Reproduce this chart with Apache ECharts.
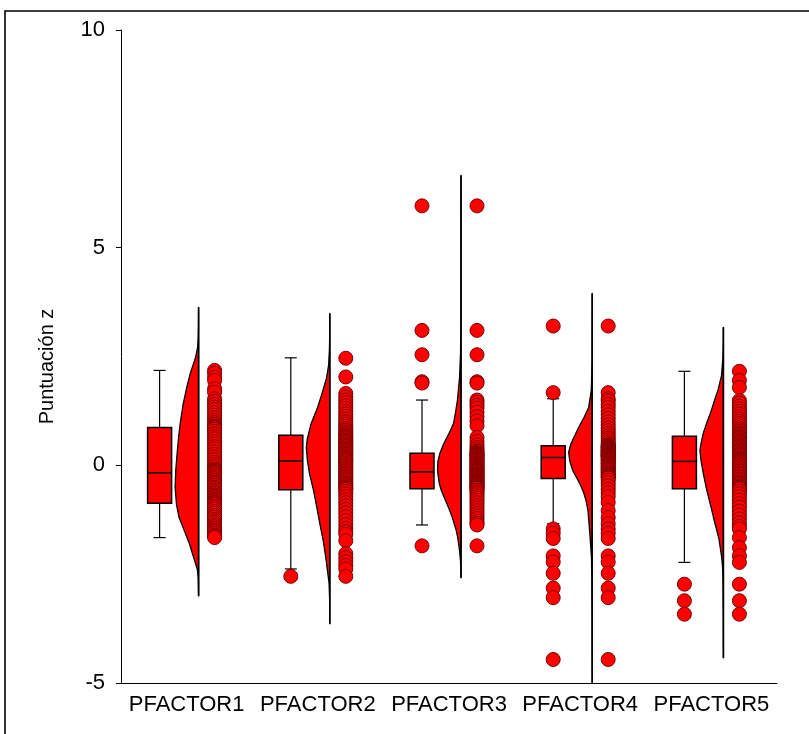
<!DOCTYPE html>
<html>
<head>
<meta charset="utf-8">
<script src="https://cdn.jsdelivr.net/npm/echarts@6/dist/echarts.min.js"></script>
<style>
  html, body { margin: 0; padding: 0; background: #fff; }
  #chart { width: 809px; height: 734px; }
</style>
</head>
<body>
<div id="chart"></div>
<script>
// Factor names on the category axis
const factors = ['PFACTOR1', 'PFACTOR2', 'PFACTOR3', 'PFACTOR4', 'PFACTOR5'];

// Value axis range and step for the z scores
const yMin = -5;
const yMax = 10;
const yStep = 5;

// Individual z scores per factor
const scores1 = [2.18, 2.12, 2.02, 1.95, 1.76, 1.68, 1.53, 1.47, 1.40, 1.34, 1.28, 1.21, 1.15, 1.09, 1.03, 0.98, 0.94, 0.90, 0.88, 0.86,
  0.83, 0.78, 0.72, 0.66, 0.61, 0.55, 0.49, 0.43, 0.38, 0.31, 0.25, 0.19, 0.13, 0.07, 0.02, -0.03, -0.08, -0.11, -0.14, -0.16,
  -0.19, -0.23, -0.27, -0.31, -0.35, -0.39, -0.42, -0.46, -0.50, -0.53, -0.57, -0.61, -0.64, -0.68, -0.71, -0.74, -0.78, -0.81, -0.84, -0.86,
  -0.89, -0.93, -0.97, -1.01, -1.06, -1.10, -1.15, -1.19, -1.24, -1.28, -1.32, -1.37, -1.41, -1.45, -1.49, -1.52, -1.56, -1.60, -1.63, -1.66];
const scores2 = [2.46, 2.03, 1.65, 1.57, 1.50, 1.44, 1.37, 1.31, 1.24, 1.18, 1.12, 1.06, 1.00, 0.95, 0.90, 0.85, 0.81, 0.77, 0.73, 0.70,
  0.67, 0.64, 0.61, 0.58, 0.55, 0.52, 0.49, 0.46, 0.43, 0.40, 0.37, 0.34, 0.31, 0.28, 0.25, 0.22, 0.19, 0.16, 0.13, 0.11,
  0.08, 0.04, 0.01, -0.03, -0.06, -0.10, -0.13, -0.17, -0.20, -0.24, -0.27, -0.31, -0.34, -0.38, -0.41, -0.44, -0.47, -0.50, -0.53, -0.55,
  -0.60, -0.66, -0.72, -0.79, -0.86, -0.93, -1.01, -1.09, -1.18, -1.27, -1.36, -1.45, -1.52, -1.58, -1.73, -2.03, -2.12, -2.21, -2.30, -2.38, -2.55];
const scores3 = [5.96, 3.10, 2.54, 1.92, 1.89, 1.50, 1.45, 1.38, 1.31, 1.22, 1.12, 1.02, 0.91, 0.64, 0.55, 0.47, 0.41, 0.36, 0.32, 0.29,
  0.27, 0.25, 0.23, 0.21, 0.19, 0.16, 0.14, 0.12, 0.10, 0.07, 0.05, 0.03, 0.00, -0.02, -0.04, -0.07, -0.09, -0.11, -0.13, -0.14,
  -0.17, -0.19, -0.21, -0.23, -0.25, -0.27, -0.29, -0.31, -0.33, -0.35, -0.37, -0.39, -0.41, -0.43, -0.45, -0.47, -0.49, -0.51, -0.52, -0.53,
  -0.57, -0.61, -0.65, -0.70, -0.75, -0.80, -0.86, -0.92, -0.98, -1.04, -1.10, -1.16, -1.22, -1.28, -1.33, -1.37, -1.85];
const scores4 = [3.20, 1.67, 1.53, 1.48, 1.40, 1.33, 1.24, 1.16, 1.08, 1.00, 0.93, 0.86, 0.80, 0.74, 0.68, 0.63, 0.58, 0.53, 0.49, 0.46,
  0.44, 0.43, 0.41, 0.40, 0.38, 0.37, 0.35, 0.34, 0.32, 0.31, 0.29, 0.28, 0.27, 0.25, 0.24, 0.23, 0.22, 0.21, 0.20, 0.19,
  0.16, 0.14, 0.12, 0.10, 0.07, 0.05, 0.03, 0.00, -0.02, -0.05, -0.07, -0.10, -0.12, -0.15, -0.17, -0.20, -0.22, -0.25, -0.27, -0.29,
  -0.34, -0.40, -0.47, -0.55, -0.63, -0.72, -0.85, -1.04, -1.20, -1.34, -1.46, -1.56, -1.68, -2.08, -2.22, -2.48, -2.82, -3.04, -4.46];
const scores5 = [2.16, 1.95, 1.79, 1.49, 1.43, 1.36, 1.30, 1.24, 1.18, 1.12, 1.06, 1.01, 0.96, 0.91, 0.86, 0.82, 0.78, 0.74, 0.71, 0.68,
  0.65, 0.62, 0.59, 0.56, 0.53, 0.50, 0.47, 0.44, 0.41, 0.38, 0.35, 0.32, 0.29, 0.26, 0.23, 0.20, 0.17, 0.14, 0.12, 0.10,
  0.07, 0.04, 0.01, -0.03, -0.06, -0.10, -0.13, -0.17, -0.20, -0.24, -0.27, -0.31, -0.34, -0.38, -0.41, -0.44, -0.47, -0.50, -0.52, -0.54,
  -0.59, -0.65, -0.72, -0.80, -0.88, -0.96, -1.05, -1.14, -1.23, -1.32, -1.40, -1.46, -1.66, -1.89, -2.08, -2.23, -2.73, -3.11, -3.42];

// Box plot statistics: [lower whisker, Q1, median, Q3, upper whisker]
const box1 = [-1.66, -0.87, -0.17, 0.87, 2.18];
const box2 = [-2.38, -0.56, 0.10, 0.69, 2.47];
const box3 = [-1.37, -0.54, -0.15, 0.28, 1.50];
const box4 = [-1.34, -0.30, 0.18, 0.45, 1.53];
const box5 = [-2.23, -0.54, 0.09, 0.67, 2.16];

// Density profiles (z score, relative density) for the half violins
const dens1 = [[3.63, 0], [3.2, 0.005], [2.9, 0.02], [2.71, 0.04], [2.48, 0.13], [2.1, 0.36], [1.8, 0.5], [1.4, 0.66], [0.97, 0.78],
  [0.6, 0.86], [0.3, 0.91], [-0.1, 0.97], [-0.5, 1.0], [-0.9, 0.94], [-1.2, 0.83], [-1.5, 0.61], [-1.8, 0.39], [-2.1, 0.22],
  [-2.4, 0.05], [-2.6, 0.015], [-3.0, 0]];
const dens2 = [[3.49, 0], [3.0, 0.004], [2.68, 0.015], [2.3, 0.05], [2.0, 0.14], [1.6, 0.36], [1.33, 0.52], [0.95, 0.8], [0.6, 0.96],
  [0.41, 1.0], [0.1, 0.95], [-0.2, 0.86], [-0.58, 0.69], [-0.97, 0.55], [-1.35, 0.42], [-1.73, 0.28], [-2.12, 0.17], [-2.5, 0.08],
  [-2.72, 0.03], [-3.1, 0.006], [-3.64, 0]];
const dens3 = [[6.66, 0], [6.2, 0.003], [5.9, 0.006], [5.5, 0.003], [4.5, 0.002], [3.1, 0.005], [2.57, 0.02], [2.03, 0.06], [1.5, 0.15],
  [1.26, 0.22], [0.96, 0.32], [0.8, 0.45], [0.64, 0.6], [0.49, 0.74], [0.27, 0.9], [0.1, 0.98], [-0.12, 1.0], [-0.43, 0.92], [-0.6, 0.82],
  [-0.88, 0.6], [-1.04, 0.48], [-1.2, 0.37], [-1.5, 0.2], [-1.66, 0.14], [-1.96, 0.06], [-2.2, 0.02], [-2.58, 0]];
const dens4 = [[3.95, 0], [3.2, 0.004], [2.5, 0.005], [2.06, 0.02], [1.72, 0.04], [1.33, 0.15], [1.1, 0.35], [0.87, 0.58], [0.64, 0.78],
  [0.49, 0.91], [0.3, 1.0], [0.11, 0.96], [-0.12, 0.83], [-0.43, 0.52], [-0.6, 0.38], [-0.81, 0.26], [-1.04, 0.18], [-1.43, 0.12],
  [-1.8, 0.07], [-2.12, 0.03], [-2.6, 0.015], [-3.0, 0.012], [-3.6, 0.005], [-4.46, 0.004], [-5.0, 0]];
const dens5 = [[3.17, 0], [2.8, 0.006], [2.48, 0.02], [2.06, 0.08], [1.75, 0.22], [1.49, 0.38], [1.2, 0.55], [0.99, 0.7], [0.75, 0.85],
  [0.53, 0.94], [0.35, 1.0], [0.1, 0.95], [-0.2, 0.85], [-0.54, 0.72], [-0.93, 0.54], [-1.31, 0.37], [-1.69, 0.19], [-2.08, 0.08],
  [-2.3, 0.04], [-2.6, 0.02], [-3.1, 0.012], [-3.5, 0.006], [-4.42, 0]];

const scoreLists = [scores1, scores2, scores3, scores4, scores5];
const boxLists = [box1, box2, box3, box4, box5];
const densLists = [dens1, dens2, dens3, dens4, dens5];

// Horizontal placement of each layer relative to the category centre (px)
const BOX_OFFSET = -27;
const BOX_WIDTH = 24;
const CAP_WIDTH = 12;
const VIOLIN_OFFSET = 12;
const VIOLIN_WIDTH = 23.5;
const DOT_OFFSET = 28;
const DOT_SIZE = 14;

const RED = '#ff0000';
const DOT_EDGE = '#7a0000';
const FONT = "'Liberation Sans', Arial, sans-serif";

function renderBox(params, api) {
  const i = api.value(0);
  const lo = api.coord([i, api.value(1)]);
  const q1 = api.coord([i, api.value(2)]);
  const md = api.coord([i, api.value(3)]);
  const q3 = api.coord([i, api.value(4)]);
  const hi = api.coord([i, api.value(5)]);
  const cx = lo[0] + BOX_OFFSET;
  const line = { stroke: '#000', lineWidth: 1.2 };
  return {
    type: 'group',
    children: [
      { type: 'line', shape: { x1: cx, y1: hi[1], x2: cx, y2: q3[1] }, style: line },
      { type: 'line', shape: { x1: cx, y1: q1[1], x2: cx, y2: lo[1] }, style: line },
      { type: 'line', shape: { x1: cx - CAP_WIDTH / 2, y1: hi[1], x2: cx + CAP_WIDTH / 2, y2: hi[1] }, style: line },
      { type: 'line', shape: { x1: cx - CAP_WIDTH / 2, y1: lo[1], x2: cx + CAP_WIDTH / 2, y2: lo[1] }, style: line },
      { type: 'rect', shape: { x: cx - BOX_WIDTH / 2, y: q3[1], width: BOX_WIDTH, height: q1[1] - q3[1] },
        style: { fill: RED, stroke: '#000', lineWidth: 1.5 } },
      { type: 'line', shape: { x1: cx - BOX_WIDTH / 2, y1: md[1], x2: cx + BOX_WIDTH / 2, y2: md[1] },
        style: { stroke: '#000', lineWidth: 1.5 } }
    ]
  };
}

function renderViolin(params, api) {
  const i = api.value(0);
  const prof = densLists[i];
  const base = api.coord([i, prof[0][0]])[0] + VIOLIN_OFFSET;
  const curve = prof.map(p => {
    const c = api.coord([i, p[0]]);
    return [base - p[1] * VIOLIN_WIDTH, c[1]];
  });
  const top = api.coord([i, prof[0][0]])[1];
  const bottom = api.coord([i, prof[prof.length - 1][0]])[1];
  return {
    type: 'group',
    children: [
      { type: 'polygon', shape: { points: curve },
        style: { fill: RED, stroke: '#000', lineWidth: 1.3, lineJoin: 'round' } },
      { type: 'line', shape: { x1: base, y1: top, x2: base, y2: bottom },
        style: { stroke: '#000', lineWidth: 1.6 } }
    ]
  };
}

const dotData = [];
const outlierData = [];
scoreLists.forEach((arr, i) => {
  const b = boxLists[i];
  arr.forEach(v => {
    dotData.push([i, v]);
    if (v < b[0] || v > b[4]) outlierData.push([i, v]);
  });
});

const chart = echarts.init(document.getElementById('chart'), null, { renderer: 'canvas' });
chart.setOption({
  animation: false,
  backgroundColor: '#fff',
  grid: { left: 121, right: 32, top: 30, bottom: 51, containLabel: false },
  graphic: [{
    type: 'rect', silent: true, z: 0,
    shape: { x: 5, y: 11, width: 1200, height: 1200 },
    style: { fill: 'transparent', stroke: '#000', lineWidth: 1.6 }
  }],
  xAxis: {
    type: 'category',
    data: factors,
    boundaryGap: true,
    axisLine: { onZero: false, lineStyle: { color: '#000', width: 1 } },
    axisTick: { alignWithLabel: true, length: 5, lineStyle: { color: '#000' } },
    axisLabel: { color: '#000', fontSize: 22, fontFamily: FONT, margin: 11, interval: 0 },
    splitLine: { show: false }
  },
  yAxis: {
    type: 'value',
    min: yMin, max: yMax, interval: yStep,
    name: 'Puntuación z',
    nameLocation: 'middle',
    nameGap: 64,
    nameTextStyle: { color: '#000', fontSize: 20, fontFamily: FONT, padding: [0, 20, 0, 0] },
    axisLine: { show: true, lineStyle: { color: '#000', width: 1 } },
    axisTick: { show: true, length: 5, lineStyle: { color: '#000' } },
    axisLabel: { color: '#000', fontSize: 22, fontFamily: FONT, margin: 16 },
    splitLine: { show: false }
  },
  series: [
    {
      type: 'custom', name: 'violin',
      renderItem: renderViolin,
      encode: { x: 0, y: [1, 2] },
      data: densLists.map((d, i) => [i, d[0][0], d[d.length - 1][0]]),
      z: 2
    },
    {
      type: 'custom', name: 'box',
      renderItem: renderBox,
      encode: { x: 0, y: [1, 2, 3, 4, 5] },
      data: boxLists.map((b, i) => [i].concat(b)),
      z: 3
    },
    {
      type: 'scatter', name: 'outliers',
      data: outlierData,
      symbol: 'circle', symbolSize: DOT_SIZE, symbolOffset: [BOX_OFFSET, 0],
      itemStyle: { color: RED, borderColor: DOT_EDGE, borderWidth: 1, opacity: 1 },
      z: 4
    },
    {
      type: 'scatter', name: 'scores',
      data: dotData,
      symbol: 'circle', symbolSize: DOT_SIZE, symbolOffset: [DOT_OFFSET, 0],
      itemStyle: { color: RED, borderColor: DOT_EDGE, borderWidth: 1, opacity: 1 },
      z: 4
    }
  ]
});
</script>
</body>
</html>
